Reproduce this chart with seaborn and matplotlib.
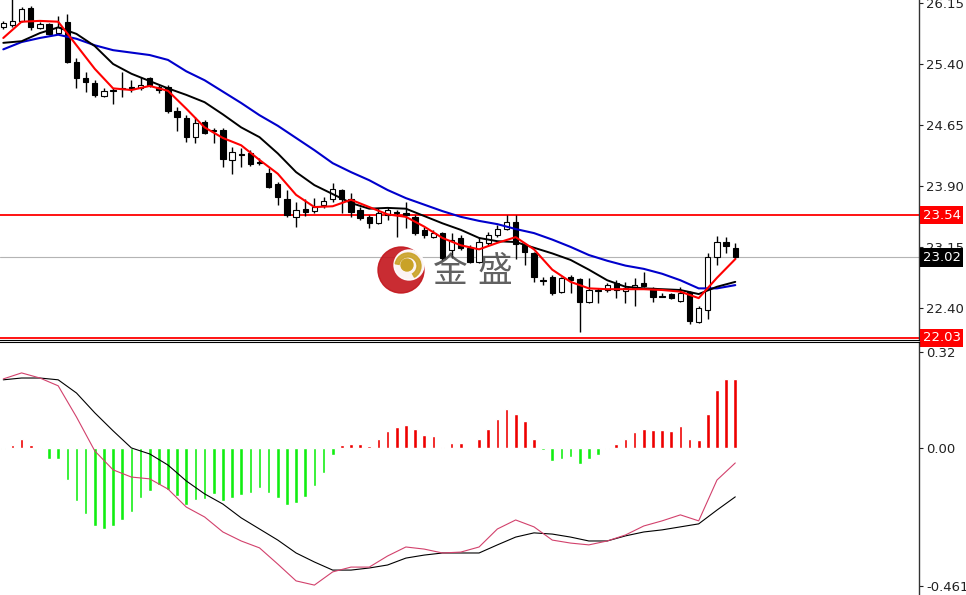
import numpy as np
import matplotlib
matplotlib.use("Agg")
import matplotlib.pyplot as plt
import seaborn as sns
from matplotlib.patches import Circle, Wedge

# ==================================================
# 1. Data
# ==================================================
opens = [25.85, 25.88, 25.93, 26.09, 25.84, 25.89, 25.78, 25.92, 25.42, 25.23,
         25.17, 25.01, 25.08, 25.09, 25.12, 25.10, 25.23, 25.12, 25.12, 24.82,
         24.74, 24.50, 24.69, 24.59, 24.59, 24.22, 24.29, 24.31, 24.19, 24.06,
         23.92, 23.74, 23.52, 23.62, 23.59, 23.67, 23.74, 23.85, 23.74, 23.60,
         23.52, 23.44, 23.54, 23.58, 23.57, 23.52, 23.36, 23.27, 23.32, 23.11,
         23.26, 23.14, 22.96, 23.20, 23.30, 23.37, 23.46, 23.17, 23.08, 22.74,
         22.78, 22.60, 22.78, 22.76, 22.47, 22.62, 22.62, 22.71, 22.61, 22.65,
         22.71, 22.65, 22.55, 22.57, 22.49, 22.60, 22.23, 22.37, 23.03, 23.21,
         23.14]
highs = [25.93, 26.30, 26.10, 26.11, 25.92, 25.90, 25.99, 26.01, 25.47, 25.30,
         25.20, 25.10, 25.10, 25.30, 25.20, 25.24, 25.24, 25.14, 25.14, 24.87,
         24.77, 24.75, 24.71, 24.61, 24.61, 24.38, 24.37, 24.34, 24.24, 24.12,
         23.95, 23.85, 23.70, 23.74, 23.75, 23.76, 23.94, 23.86, 23.81, 23.64,
         23.54, 23.63, 23.64, 23.60, 23.70, 23.54, 23.40, 23.36, 23.33, 23.32,
         23.30, 23.17, 23.27, 23.33, 23.42, 23.54, 23.54, 23.20, 23.09, 22.78,
         22.80, 22.78, 22.80, 22.77, 22.77, 22.65, 22.71, 22.74, 22.72, 22.77,
         22.84, 22.66, 22.58, 22.58, 22.66, 22.61, 22.42, 23.08, 23.28, 23.27,
         23.20]
lows = [25.83, 25.85, 25.92, 25.82, 25.83, 25.76, 25.77, 25.41, 25.10, 25.06,
        24.99, 24.99, 24.91, 24.99, 25.06, 25.08, 25.12, 25.04, 24.80, 24.58,
        24.44, 24.43, 24.54, 24.43, 24.13, 24.05, 24.13, 24.15, 24.16, 23.88,
        23.67, 23.52, 23.40, 23.53, 23.57, 23.63, 23.70, 23.57, 23.52, 23.48,
        23.38, 23.43, 23.48, 23.27, 23.38, 23.30, 23.26, 23.26, 22.99, 23.01,
        23.11, 22.95, 22.95, 23.17, 23.27, 23.36, 23.00, 22.93, 22.72, 22.68,
        22.56, 22.58, 22.58, 22.10, 22.46, 22.46, 22.60, 22.52, 22.46, 22.42,
        22.66, 22.47, 22.53, 22.51, 22.47, 22.20, 22.21, 22.26, 22.93, 23.08,
        23.00]
closes = [25.90, 25.93, 26.08, 25.85, 25.89, 25.77, 25.86, 25.42, 25.23, 25.18,
          25.02, 25.07, 25.07, 25.10, 25.09, 25.14, 25.14, 25.08, 24.82, 24.75,
          24.50, 24.67, 24.55, 24.58, 24.23, 24.32, 24.28, 24.17, 24.18, 23.89,
          23.76, 23.54, 23.60, 23.58, 23.64, 23.72, 23.86, 23.74, 23.58, 23.51,
          23.44, 23.57, 23.60, 23.57, 23.54, 23.32, 23.30, 23.32, 23.01, 23.24,
          23.14, 22.96, 23.21, 23.30, 23.37, 23.46, 23.19, 23.09, 22.78, 22.73,
          22.58, 22.77, 22.74, 22.47, 22.62, 22.61, 22.68, 22.62, 22.65, 22.68,
          22.67, 22.53, 22.54, 22.52, 22.58, 22.24, 22.40, 23.03, 23.21, 23.16,
          23.02]

# moving averages, sampled every second bar
ma_idx = list(range(0, 81, 2))
ma_red = [25.72, 25.92, 25.93, 25.92, 25.63, 25.34, 25.10, 25.08, 25.13, 25.07,
          24.85, 24.62, 24.49, 24.40, 24.22, 24.05, 23.79, 23.64, 23.65, 23.73,
          23.64, 23.55, 23.52, 23.40, 23.26, 23.17, 23.12, 23.20, 23.27, 23.12,
          22.87, 22.72, 22.64, 22.63, 22.63, 22.63, 22.62, 22.60, 22.52, 22.77,
          23.00]
ma_black = [25.66, 25.68, 25.78, 25.85, 25.77, 25.62, 25.40, 25.28, 25.19, 25.10,
            25.02, 24.93, 24.78, 24.62, 24.50, 24.30, 24.07, 23.91, 23.80, 23.69,
            23.62, 23.63, 23.62, 23.53, 23.44, 23.36, 23.26, 23.22, 23.21, 23.14,
            23.07, 22.99, 22.87, 22.74, 22.66, 22.64, 22.63, 22.62, 22.57, 22.66,
            22.72]
ma_blue = [25.58, 25.67, 25.72, 25.76, 25.71, 25.63, 25.57, 25.54, 25.51, 25.45,
           25.31, 25.20, 25.06, 24.92, 24.77, 24.64, 24.49, 24.34, 24.18, 24.07,
           23.97, 23.85, 23.75, 23.67, 23.59, 23.52, 23.47, 23.43, 23.37, 23.32,
           23.24, 23.15, 23.05, 22.98, 22.92, 22.88, 22.82, 22.74, 22.64, 22.64,
           22.68]

hist = [-0.003, 0.009, 0.031, 0.009, -0.005, -0.036, -0.038, -0.106, -0.177, -0.221,
        -0.260, -0.269, -0.260, -0.239, -0.213, -0.167, -0.143, -0.124, -0.141, -0.160,
        -0.189, -0.172, -0.169, -0.154, -0.177, -0.166, -0.156, -0.150, -0.133, -0.150,
        -0.167, -0.191, -0.183, -0.163, -0.127, -0.082, -0.022, 0.009, 0.012, 0.012,
        0.008, 0.031, 0.057, 0.070, 0.078, 0.062, 0.044, 0.040, 0.003, 0.017,
        0.017, -0.002, 0.029, 0.062, 0.096, 0.129, 0.114, 0.090, 0.031, -0.006,
        -0.044, -0.038, -0.030, -0.052, -0.038, -0.024, -0.003, 0.012, 0.031, 0.053,
        0.064, 0.059, 0.059, 0.057, 0.072, 0.029, 0.026, 0.114, 0.194, 0.231,
        0.229]
macd_fast = [0.230, 0.250, 0.233, 0.207, 0.103, -0.010, -0.073, -0.097, -0.103, -0.137,
             -0.197, -0.230, -0.280, -0.310, -0.333, -0.387, -0.443, -0.457, -0.413, -0.397,
             -0.397, -0.360, -0.330, -0.337, -0.350, -0.347, -0.330, -0.270, -0.240, -0.263,
             -0.307, -0.317, -0.323, -0.310, -0.290, -0.260, -0.243, -0.223, -0.243, -0.107,
             -0.050]
macd_slow = [0.227, 0.233, 0.233, 0.227, 0.183, 0.117, 0.057, 0.000, -0.020, -0.057,
             -0.110, -0.153, -0.187, -0.233, -0.270, -0.307, -0.350, -0.380, -0.407, -0.407,
             -0.400, -0.390, -0.367, -0.357, -0.350, -0.350, -0.350, -0.323, -0.297, -0.283,
             -0.287, -0.297, -0.310, -0.310, -0.293, -0.280, -0.273, -0.263, -0.253, -0.207,
             -0.163]

price_ticks = [26.15, 25.40, 24.65, 23.90, 23.15, 22.40]
macd_ticks = [0.32, 0.00, -0.461]
macd_tick_labels = ["0.32", "0.00", "-0.461"]
resist, support, last_price = 23.54, 22.03, 23.02

# ==================================================
# 2. Figure setup
# ==================================================
sns.set_style("white")
plt.rcParams["font.family"] = ["DejaVu Sans"]

W, H = 966, 595
fig = plt.figure(figsize=(W / 100, H / 100), dpi=100)
ax = fig.add_axes([0, 1 - 340 / H, 919 / W, 340 / H])
ax2 = fig.add_axes([0, 0, 919 / W, 253 / H])

idx = np.arange(len(closes))
o = np.array(opens)
c = np.array(closes)

# ==================================================
# 3. Price panel: candles + MAs
# ==================================================
ax.axhline(last_price, color="#b4b4b4", lw=0.8, zorder=1)
ax.axhline(resist, color="red", lw=1.3, zorder=2)
ax.axhline(support, color="red", lw=1.3, zorder=2)

ax.vlines(idx, lows, highs, color="black", lw=1, zorder=3)
body_h = np.maximum(np.abs(c - o), 0.01)
body_col = ["white" if cl >= op else "black" for op, cl in zip(o, c)]
ax.bar(idx, body_h, bottom=np.minimum(o, c), width=0.58, color=body_col,
       edgecolor="black", linewidth=0.8, zorder=4)

sns.lineplot(x=ma_idx, y=ma_blue, ax=ax, color="#0000cc", lw=1.5, zorder=5)
sns.lineplot(x=ma_idx, y=ma_black, ax=ax, color="black", lw=1.4, zorder=6)
sns.lineplot(x=ma_idx, y=ma_red, ax=ax, color="red", lw=1.5, zorder=7)

ax.set_xlim(-0.36, 100.08)
ax.set_ylim(22.005, 26.187)
ax.set_xticks([])
ax.set_yticks(price_ticks)
ax.set_yticklabels([f"{v:.2f}" for v in price_ticks])

# ==================================================
# 4. MACD panel
# ==================================================
hist_col = ["#ee0000" if v > 0 else "#11ee11" for v in hist]
ax2.bar(idx, hist, width=0.4, color=hist_col, zorder=3)
sns.lineplot(x=ma_idx, y=macd_slow, ax=ax2, color="black", lw=0.8, zorder=4)
sns.lineplot(x=ma_idx, y=macd_fast, ax=ax2, color="#d2416c", lw=0.8, zorder=5)

ax2.set_xlim(-0.36, 100.08)
ax2.set_ylim(-0.49, 0.353)
ax2.set_xticks([])
ax2.set_yticks(macd_ticks)
ax2.set_yticklabels(macd_tick_labels)

for a in (ax, ax2):
    a.set_xlabel("")
    a.set_ylabel("")
    a.yaxis.tick_right()
    a.tick_params(axis="y", direction="out", length=3, pad=2, width=0.8,
                  colors="#222222", labelsize=9.5)
    a.spines["left"].set_visible(False)
    a.spines["right"].set_color("#333333")
    a.spines["right"].set_linewidth(1)
ax.spines["top"].set_visible(False)
ax.spines["bottom"].set_color("black")
ax2.spines["bottom"].set_visible(False)
ax2.spines["top"].set_color("black")

# right-side price boxes
tr = ax.get_yaxis_transform()
for val, bg in [(resist, "red"), (support, "red"), (last_price, "black")]:
    ax.text(1.004, val, f"{val:.2f}", transform=tr, ha="left", va="center",
            color="white", fontsize=9.5, clip_on=False, zorder=10,
            bbox=dict(boxstyle="square,pad=0.2", fc=bg, ec="none"))

# ==================================================
# 5. Watermark logo
# ==================================================
ov = fig.add_axes([0, 0, 1, 1])
ov.set_xlim(0, W)
ov.set_ylim(H, 0)
ov.axis("off")
ov.patch.set_alpha(0)
ov.add_patch(Circle((401, 270), 23, color="#c3151c", alpha=0.9))
ov.add_patch(Circle((409, 265), 15, color="white", alpha=0.95))
ov.add_patch(Wedge((408, 266), 13, 190, 60, width=4, color="#c9a227", alpha=0.9))
ov.add_patch(Circle((407, 265), 6, color="#c9a227"))
for ch, cx in [("金", 450), ("盛", 495)]:
    ov.text(cx, 272, ch, ha="center", va="center", fontsize=25, color="#454545",
            family=["Noto Sans CJK SC", "DejaVu Sans"], alpha=0.85)

fig.savefig("out.png", dpi=100)
plt.close(fig)
